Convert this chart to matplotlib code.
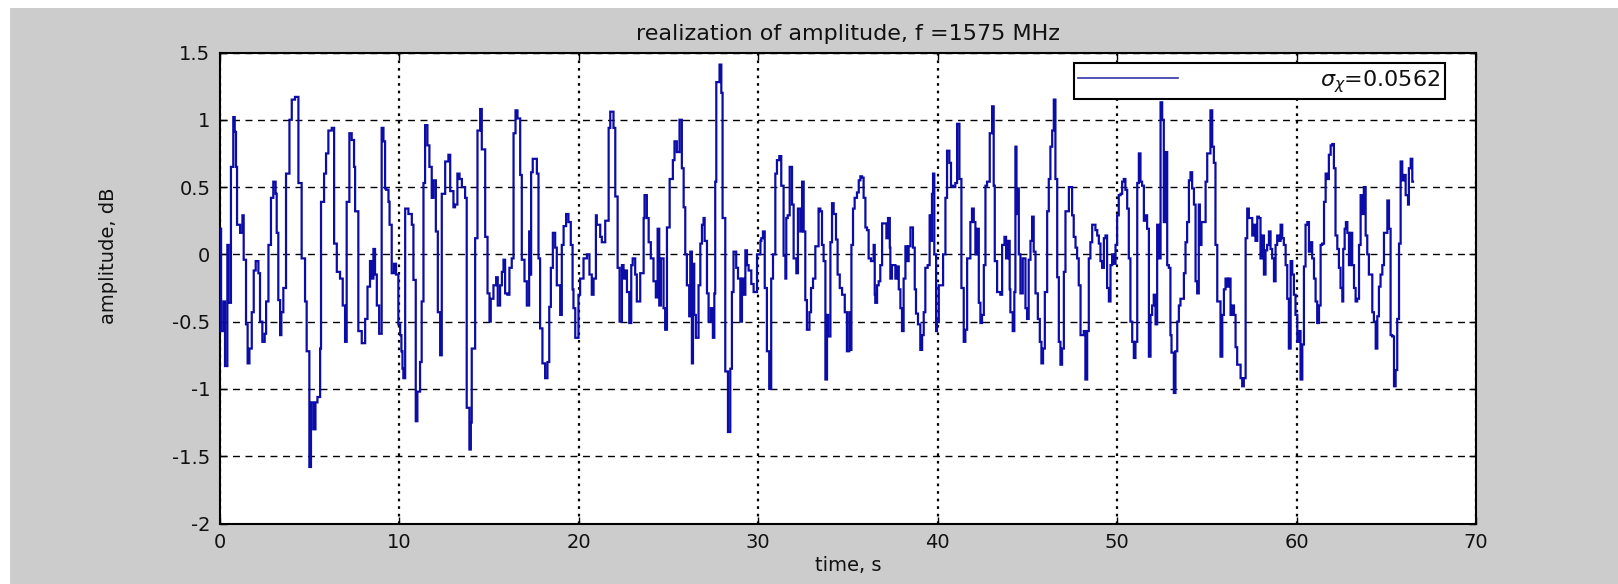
import matplotlib
matplotlib.use("Agg")
import matplotlib.pyplot as plt
import numpy as np

# ---- data (step signal) ----
t_start = [
    0.00, 0.06, 0.19, 0.28, 0.41, 0.48, 0.61, 0.74, 0.82, 0.89, 0.95, 1.12, 1.25, 1.32, 1.45, 1.54, 1.64, 1.77, 1.88, 1.99,
    2.14, 2.23, 2.36, 2.49, 2.57, 2.70, 2.84, 2.97, 3.10, 3.16, 3.25, 3.35, 3.42, 3.53, 3.68, 3.87, 4.00, 4.18, 4.37, 4.55,
    4.74, 4.83, 4.98, 5.07, 5.20, 5.32, 5.43, 5.58, 5.63, 5.80, 5.91, 6.04, 6.23, 6.36, 6.51, 6.69, 6.84, 6.97, 7.06, 7.21,
    7.34, 7.47, 7.53, 7.71, 7.90, 8.09, 8.22,
    8.36, 8.46, 8.55, 8.64, 8.74, 8.87, 9.01, 9.11, 9.20, 9.26, 9.39, 9.45, 9.57, 9.70, 9.81, 9.94, 10.04, 10.11, 10.17, 10.22,
    10.32, 10.50, 10.69, 10.78, 10.91, 11.00, 11.15, 11.24, 11.34, 11.43, 11.56, 11.67, 11.80, 11.90, 12.03, 12.14, 12.27, 12.36,
    12.55, 12.73, 12.83, 13.01, 13.10, 13.23, 13.35, 13.48, 13.66, 13.75, 13.90, 13.98, 14.03, 14.22, 14.35, 14.50, 14.59, 14.78,
    14.91, 15.02, 15.09, 15.24, 15.39, 15.48, 15.61, 15.71, 15.80, 15.89, 16.02, 16.13, 16.26, 16.36, 16.47, 16.58, 16.73, 16.82,
    16.97, 17.10, 17.23,
    17.29, 17.34, 17.43, 17.66, 17.75, 17.84, 17.97, 18.12, 18.25, 18.35, 18.44, 18.55, 18.68, 18.77, 18.96, 19.05, 19.15, 19.29,
    19.42, 19.55, 19.65, 19.70, 19.80, 19.98, 20.07, 20.26, 20.45, 20.59, 20.72, 20.82, 20.95, 21.00, 21.19, 21.28, 21.47, 21.66,
    21.75, 21.93, 22.03, 22.16, 22.27, 22.40, 22.49, 22.59, 22.68, 22.81, 22.92, 23.00, 23.14, 23.23, 23.42, 23.61, 23.66, 23.79,
    23.89, 24.01, 24.16, 24.29, 24.39, 24.48, 24.57, 24.72, 24.81, 24.91, 25.06, 25.24, 25.33, 25.46, 25.61, 25.74, 25.84, 25.93,
    26.02, 26.15,
    26.21, 26.30, 26.36, 26.43, 26.52, 26.67, 26.77, 26.86, 26.95, 27.01, 27.14, 27.23, 27.36, 27.47, 27.55, 27.60, 27.66, 27.84,
    27.94, 28.01, 28.16, 28.31, 28.44, 28.53, 28.62, 28.77, 28.87, 29.00, 29.09, 29.18, 29.28, 29.37, 29.46, 29.61, 29.74, 29.93,
    30.12, 30.17, 30.26, 30.36, 30.48, 30.61, 30.72, 30.82, 30.95, 31.04, 31.17, 31.28, 31.41, 31.51, 31.56, 31.64, 31.75, 31.88,
    31.97, 32.12, 32.21, 32.34, 32.44, 32.53, 32.62, 32.71, 32.85, 32.94, 33.05, 33.18, 33.36, 33.46, 33.55, 33.64, 33.74, 33.83,
    33.89, 34.02, 34.11, 34.20, 34.33, 34.42, 34.54, 34.67, 34.82, 34.94, 35.07,
    35.13, 35.19, 35.28, 35.37, 35.50, 35.60, 35.69, 35.78, 35.87, 35.97, 36.06, 36.15, 36.28, 36.43, 36.49, 36.52, 36.62, 36.71,
    36.80, 36.90, 37.14, 37.23, 37.33, 37.36, 37.45, 37.64, 37.73, 37.83, 37.92, 38.01, 38.10, 38.20, 38.29, 38.38, 38.48, 38.62,
    38.72, 38.79, 38.90, 39.03, 39.13, 39.22, 39.31, 39.44, 39.55, 39.59, 39.68, 39.74, 39.81, 39.91, 39.96, 40.06, 40.30, 40.43,
    40.52, 40.65, 40.74, 40.85, 40.98, 41.08, 41.21, 41.32, 41.45, 41.54, 41.64, 41.82, 41.91, 42.01, 42.10, 42.19, 42.29, 42.38,
    42.47, 42.57, 42.66, 42.75, 42.90, 43.03, 43.12, 43.18, 43.31, 43.49, 43.59, 43.72, 43.81, 43.92, 44.01,
    44.05, 44.18, 44.27, 44.33, 44.39, 44.46, 44.52, 44.61, 44.74, 44.89, 44.98, 45.07, 45.17, 45.26, 45.35, 45.45, 45.58, 45.69,
    45.78, 45.87, 45.97, 46.10, 46.19, 46.28, 46.38, 46.47, 46.56, 46.66, 46.75, 46.84, 46.93, 47.03, 47.12, 47.31, 47.49, 47.58,
    47.68, 47.77, 47.86, 47.96, 48.14, 48.23, 48.33, 48.42, 48.51, 48.61, 48.79, 48.89, 48.98, 49.07, 49.16, 49.26, 49.35, 49.44,
    49.54, 49.63, 49.72, 49.81, 49.91, 50.00, 50.09, 50.19, 50.28, 50.37, 50.46, 50.56, 50.65, 50.74, 50.84, 50.93, 51.02, 51.12,
    51.21, 51.30, 51.39, 51.49, 51.58, 51.67, 51.77, 51.86, 51.95, 52.04, 52.14, 52.23, 52.32, 52.42, 52.51, 52.60, 52.70, 52.79,
    52.88,
    52.97, 53.03, 53.16, 53.25, 53.35, 53.44, 53.53, 53.72, 53.81, 53.90, 54.00, 54.09, 54.18, 54.28, 54.37, 54.46, 54.55, 54.61,
    54.70, 54.93, 55.02, 55.20, 55.30, 55.39, 55.48, 55.58, 55.76, 55.86, 55.95, 56.04, 56.14, 56.23, 56.32, 56.41, 56.51, 56.60,
    56.69, 56.88, 56.97, 57.06, 57.16, 57.25, 57.34, 57.53, 57.62, 57.71, 57.81, 57.90, 57.99, 58.09, 58.18, 58.27, 58.36, 58.46,
    58.55, 58.64, 58.74, 58.83, 58.92, 59.01, 59.11, 59.20, 59.29, 59.39, 59.48, 59.57, 59.67, 59.76, 59.85, 59.94, 60.04, 60.13,
    60.22, 60.32, 60.41, 60.50, 60.60, 60.69, 60.78, 60.87, 60.97, 61.06, 61.15, 61.25, 61.34, 61.43, 61.53, 61.62, 61.71, 61.80,
    61.90, 61.99, 62.08, 62.17, 62.27, 62.36, 62.45, 62.55, 62.60, 62.68, 62.75, 62.83, 62.92, 63.01, 63.10, 63.20, 63.29, 63.38,
    63.48, 63.57, 63.66, 63.75, 63.85, 63.94, 64.03, 64.22, 64.31, 64.41, 64.50, 64.59, 64.68, 64.78, 64.87, 65.06, 65.15, 65.24,
    65.33, 65.43, 65.52, 65.61, 65.71, 65.80, 65.89, 65.99, 66.08, 66.21, 66.26, 66.36, 66.45,
]
t_end = 66.55

amplitude_db = [
    0.19, -0.57, -0.35, -0.83, 0.07, -0.36, 0.65, 1.02, 0.91, 0.65, 0.22, 0.16, 0.29, -0.04, -0.52, -0.81, -0.70, -0.43, -0.12, -0.05,
    -0.14, -0.50, -0.65, -0.59, -0.35, 0.07, 0.42, 0.54, 0.45, 0.16, -0.34, -0.60, -0.43, -0.25, 0.60, 1.00, 1.15, 1.17, 0.53, -0.03,
    -0.35, -0.72, -1.58, -1.10, -1.30, -1.10, -1.06, -0.70, 0.39, 0.60, 0.75, 0.92, 0.94, 0.08, -0.13, -0.18, -0.38, -0.65, 0.39, 0.90,
    0.85, 0.65, 0.32, -0.57, -0.66, -0.48, -0.24,
    -0.05, -0.18, 0.04, -0.15, -0.38, -0.59, 0.94, 0.84, 0.49, 0.48, 0.39, 0.22, -0.14, -0.07, -0.15, -0.52, -0.60, -0.72, -0.85, -0.92,
    0.34, 0.30, 0.22, -0.19, -1.24, -1.02, -0.80, -0.35, 0.53, 0.96, 0.81, 0.65, 0.42, 0.55, 0.17, -0.43, -0.75, 0.45,
    0.69, 0.74, 0.47, 0.35, 0.37, 0.60, 0.56, 0.50, 0.42, -1.14, -1.45, -1.25, -0.70, 0.12, 0.92, 1.08, 0.78, 0.13,
    -0.29, -0.50, -0.33, -0.23, -0.17, -0.38, -0.23, -0.13, -0.04, -0.29, -0.30, -0.10, -0.03, 0.90, 1.07, 1.01, 0.59, -0.04,
    -0.20, -0.38, 0.17,
    -0.15, 0.61, 0.71, 0.60, -0.03, -0.55, -0.81, -0.92, -0.80, -0.39, -0.10, 0.16, 0.05, -0.23, -0.45, 0.07, 0.21, 0.30,
    0.24, 0.07, -0.26, -0.40, -0.62, -0.30, -0.18, -0.03, 0.00, -0.15, -0.30, -0.18, 0.29, 0.22, 0.13, 0.09, 0.25, 0.94,
    1.06, 0.94, 0.43, -0.10, -0.50, -0.08, -0.18, -0.12, -0.28, -0.51, -0.08, -0.03, -0.15, -0.35, -0.14, 0.27, 0.44, 0.27,
    0.09, -0.03, -0.20, -0.32, 0.19, -0.38, -0.03, -0.40, -0.56, 0.20, 0.56, 0.70, 0.84, 0.76, 1.00, 0.64, 0.35, 0.00,
    -0.23, -0.46,
    0.02, -0.81, -0.07, -0.45, -0.62, -0.23, 0.08, 0.22, 0.27, 0.10, -0.29, -0.50, -0.40, -0.62, -0.29, 0.54, 1.28, 1.41,
    1.20, 0.27, -0.87, -1.32, -0.85, -0.28, 0.02, -0.10, -0.18, -0.50, -0.18, -0.30, 0.03, -0.08, -0.12, -0.22, -0.28, 0.00,
    0.10, 0.12, 0.17, -0.25, -0.72, -1.00, -0.18, 0.00, 0.60, 0.70, 0.73, 0.51, -0.01, -0.18, 0.27, 0.29, 0.65, 0.37,
    -0.03, -0.14, 0.34, 0.17, 0.54, 0.17, -0.34, -0.56, -0.43, -0.25, -0.18, 0.06, 0.34, 0.32, 0.07, -0.05, -0.93, -0.45,
    -0.61, 0.09, 0.38, 0.30, 0.11, -0.15, -0.25, -0.30, -0.43, -0.72, -0.43,
    -0.71, 0.07, 0.34, 0.42, 0.46, 0.55, 0.58, 0.57, 0.42, 0.20, 0.18, -0.03, -0.05, 0.07, -0.30, -0.36, -0.23, -0.20,
    -0.08, 0.23, 0.12, 0.27, 0.05, -0.18, -0.08, -0.18, -0.09, -0.26, -0.40, -0.57, -0.18, 0.06, -0.05, 0.06, 0.20, 0.05,
    -0.26, -0.44, -0.52, -0.71, -0.60, -0.43, -0.10, -0.08, 0.29, 0.10, 0.45, 0.60, 0.00, -0.57, -0.50, -0.23, 0.00, 0.42,
    0.77, 0.68, 0.51, 0.50, 0.53, 0.97, 0.56, -0.25, -0.65, -0.56, -0.03, 0.24, 0.34, 0.24, 0.00, 0.19, -0.36, -0.51,
    -0.45, -0.08, 0.51, 0.54, 0.90, 1.10, 0.51, -0.05, -0.28, -0.30, 0.07, 0.13, -0.03, 0.10, -0.26,
    -0.43, -0.57, -0.28, 0.80, 0.30, 0.49, 0.00, -0.29, -0.03, -0.40, -0.48, -0.04, 0.10, 0.28, 0.02, -0.29, -0.48, -0.65,
    -0.81, -0.70, -0.28, 0.32, 0.56, 0.80, 0.92, 1.15, 0.56, -0.17, -0.65, -0.82, -0.70, -0.13, 0.32, 0.50, 0.29, 0.13,
    0.05, -0.03, -0.23, -0.60, -0.57, -0.93, -0.57, -0.03, 0.09, 0.22, 0.18, 0.14, 0.08, -0.05, -0.10, 0.12, 0.14, -0.25,
    -0.35, -0.08, 0.00, -0.07, 0.07, 0.29, 0.44, 0.45, 0.54, 0.56, 0.48, 0.34, -0.03, -0.50, -0.65, -0.77, -0.65, 0.53,
    0.75, 0.54, 0.51, 0.25, 0.29, 0.19, -0.76, -0.45, -0.38, -0.30, -0.52, 0.22, -0.03, 1.13, 1.00, 0.24, 0.76, -0.08,
    -0.10,
    -0.60, -0.73, -1.03, -0.72, -0.50, -0.38, -0.33, -0.14, 0.09, 0.24, 0.55, 0.61, 0.49, 0.37, -0.20, -0.29, 0.37, 0.07,
    0.24, 0.54, 0.75, 1.07, 0.80, 0.68, 0.07, -0.35, -0.76, -0.45, -0.26, -0.18, -0.24, -0.18, -0.45, -0.38, -0.45, -0.69,
    -0.82, -0.92, -0.98, -0.92, 0.12, 0.34, 0.27, 0.14, 0.22, 0.10, 0.28, 0.27, -0.03, 0.14, -0.15, 0.03, 0.07, 0.17,
    0.04, -0.03, -0.20, 0.07, 0.14, 0.10, 0.22, 0.12, 0.07, -0.08, -0.33, -0.70, -0.05, -0.15, -0.30, -0.45, -0.65, -0.57,
    -0.93, -0.67, -0.09, 0.22, 0.24, 0.02, 0.09, -0.03, -0.18, -0.35, -0.51, -0.38, 0.07, 0.08, 0.39, 0.60, 0.56, 0.74,
    0.81, 0.82, 0.64, 0.14, 0.04, -0.10, -0.25, -0.35, 0.04, 0.19, 0.24, 0.16, -0.08, 0.16, -0.08, -0.25, -0.35, -0.33,
    0.07, 0.44, 0.30, 0.50, 0.14, 0.00, -0.15, -0.43, -0.50, -0.70, -0.46, -0.24, -0.15, -0.08, 0.16, 0.40, 0.19, -0.60,
    -0.61, -0.98, -0.86, -0.48, 0.08, 0.69, 0.55, 0.59, 0.44, 0.37, 0.64, 0.71, 0.54,
]

x_ticks = [0, 10, 20, 30, 40, 50, 60, 70]
y_ticks = [-2, -1.5, -1, -0.5, 0, 0.5, 1, 1.5]
x_ticklabels = ["0", "10", "20", "30", "40", "50", "60", "70"]
y_ticklabels = ["-2", "-1.5", "-1", "-0.5", "0", "0.5", "1", "1.5"]
title = "realization of amplitude, f =1575 MHz"
legend_label = r"$\sigma_\chi$=0.0562"

# ---- figure ----
W, H = 1618, 584
fig = plt.figure(figsize=(W / 100, H / 100), dpi=100, facecolor="white")
# grey figure panel (white strip left/top as in the reference)
fig.patches.append(plt.Rectangle((10 / W, 0), 1 - 10 / W, 1 - 8 / H,
                                 transform=fig.transFigure, facecolor="#cccccc",
                                 edgecolor="none", zorder=-10))

L, R, T, B = 220, 1476, 52.5, 523.5
ax = fig.add_axes([L / W, 1 - B / H, (R - L) / W, (B - T) / H])
ax.set_facecolor("white")

n = min(len(t_start), len(amplitude_db))
edges = list(t_start[:n]) + [t_end]
ax.stairs(amplitude_db[:n], edges, baseline=None, color="#0c0ca8", linewidth=1.6,
          label=legend_label, zorder=3)

ax.set_xlim(0, 70)
ax.set_ylim(-2, 1.5)
ax.set_xticks(x_ticks)
ax.set_xticklabels(x_ticklabels)
ax.set_yticks(y_ticks)
ax.set_yticklabels(y_ticklabels)

txt_color = "#111111"
fs = 14
for lab in ax.get_xticklabels() + ax.get_yticklabels():
    lab.set_fontsize(fs)
    lab.set_color(txt_color)

ax.tick_params(direction="in", length=5, width=1.0, top=True, right=True, pad=7)
for s in ax.spines.values():
    s.set_linewidth(1.5)
    s.set_color("black")

ax.xaxis.grid(True, linestyle=(0, (1.2, 2.2)), color="black", linewidth=1.6)
ax.yaxis.grid(True, linestyle=(0, (5, 4)), color="black", linewidth=1.0)
ax.set_axisbelow(True)

ax.set_title(title, fontsize=16, color=txt_color, pad=9)
ax.set_xlabel("time, s", fontsize=14, color=txt_color)
ax.xaxis.set_label_coords(0.5, -(556 - B) / (B - T))
ax.set_ylabel("amplitude, dB", fontsize=14, color=txt_color)
ax.yaxis.set_label_coords((118 - L) / (R - L), (B - 256) / (B - T))

leg = ax.legend(loc="upper right", bbox_to_anchor=(1445 / W, 1 - 63.3 / H),
                bbox_transform=fig.transFigure, borderaxespad=0, fancybox=False,
                shadow=False, framealpha=1, edgecolor="black", fontsize=16,
                handlelength=4.5, handletextpad=6.4, borderpad=0.2)
leg.get_frame().set_linewidth(1.5)
leg.get_lines()[0].set_linewidth(1.2)
leg.get_lines()[0].set_color("#3333aa")
for t in leg.get_texts():
    t.set_color(txt_color)

fig.savefig("out.png", dpi=100, facecolor=fig.get_facecolor())
